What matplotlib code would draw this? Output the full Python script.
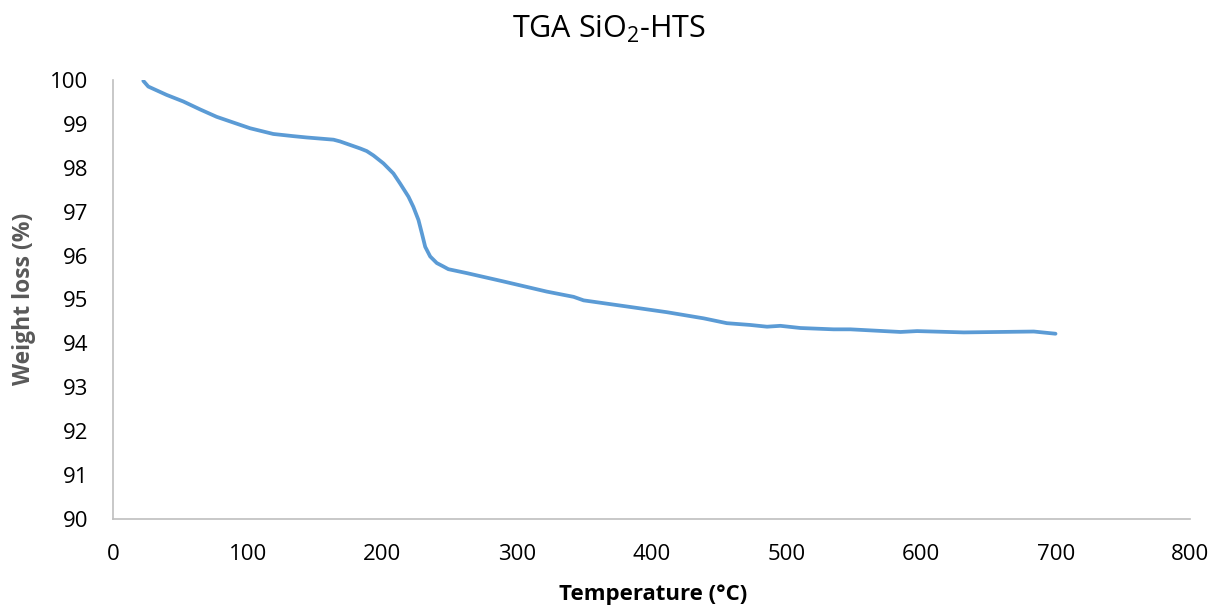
import numpy as np
import matplotlib
matplotlib.use("Agg")
import matplotlib.pyplot as plt

plt.rcParams['font.family'] = ['Open Sans', 'DejaVu Sans']

# TGA curve
temperature = [22.5, 26.2, 39.8, 52.2, 64.6, 77, 89.4, 101.8, 119, 134, 143.9, 163.7, 168.6,
               183.5, 188.4, 193.4, 200.8, 208.2, 213.2, 219.4, 223, 226.8, 229.3, 231.8,
               235.5, 240.4, 245.4, 249, 262.8, 290, 322, 342, 349.4, 381.6, 411.3,
               438.6, 455.8, 473, 485.6, 495.5, 510.4, 535, 547.5, 584.7, 597, 631.7,
               683.7, 699.8]
weight = [99.98, 99.85, 99.66, 99.51, 99.33, 99.16, 99.03, 98.90, 98.77, 98.72, 98.69, 98.64,
          98.60, 98.44, 98.38, 98.28, 98.10, 97.87, 97.64, 97.34, 97.11, 96.81, 96.51, 96.20,
          95.98, 95.83, 95.75, 95.69, 95.60, 95.41, 95.18, 95.06, 94.98, 94.84, 94.71,
          94.57, 94.46, 94.42, 94.38, 94.40, 94.35, 94.32, 94.32, 94.26, 94.28, 94.25,
          94.27, 94.22]

fig = plt.figure(figsize=(12.23, 6.10), dpi=100)
ax = fig.add_axes([0.0924, 0.1492, 0.881, 0.7197])

ax.plot(temperature, weight, color='#5B9BD5', linewidth=2.7,
        solid_capstyle='round', solid_joinstyle='round')

ax.set_xlim(0, 800)
ax.set_ylim(90, 100)
ax.set_xticks(np.arange(0, 801, 100))
ax.set_yticks(np.arange(90, 101, 1))
ax.tick_params(length=0, labelsize=16, colors='black')
ax.tick_params(axis='x', pad=18)
ax.tick_params(axis='y', pad=18)

for s in ['top', 'right']:
    ax.spines[s].set_visible(False)
for s in ['left', 'bottom']:
    ax.spines[s].set_color('#BFBFBF')
    ax.spines[s].set_linewidth(1.2)

fig.text(0.498, 0.951, r'TGA SiO$\mathregular{_2}$-HTS', ha='center', va='center', fontsize=22)
fig.text(0.534, 0.025, 'Temperature (°C)', ha='center', va='center', fontsize=16,
         fontweight='bold', color='black')
fig.text(0.02, 0.51, 'Weight loss (%)', ha='center', va='center', rotation=90, fontsize=16.5,
         fontweight='bold', color='#595959')

fig.savefig('out.png', dpi=100)
